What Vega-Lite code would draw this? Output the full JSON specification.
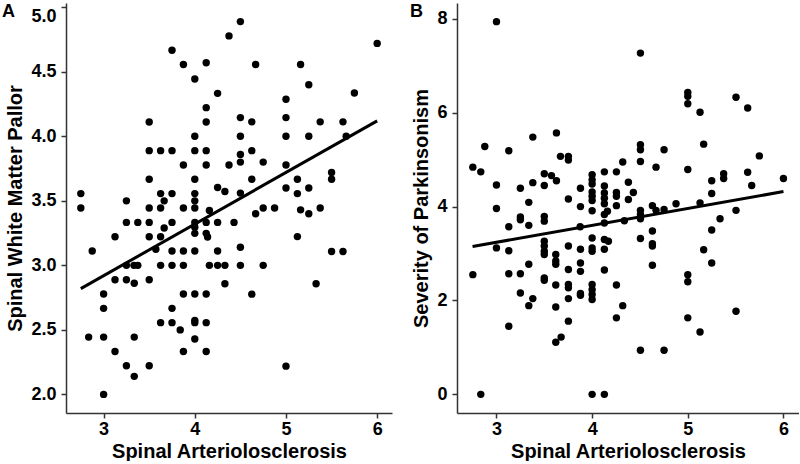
{
  "$schema": "https://vega.github.io/schema/vega-lite/v6.json",
  "padding": {"left": 2, "top": 3, "right": 0, "bottom": 0},
  "spacing": 18,
  "background": "white",
  "config": {
    "font": "Liberation Sans",
    "view": {"stroke": null},
    "axis": {
      "grid": false,
      "domainColor": "#333333",
      "domainWidth": 1.5,
      "tickColor": "#333333",
      "tickWidth": 1.5,
      "tickSize": 5,
      "labelColor": "#000000",
      "labelFont": "Liberation Sans",
      "labelFontSize": 18,
      "labelFontWeight": "bold",
      "titleColor": "#000000",
      "titleFont": "Liberation Sans",
      "titleFontSize": 20,
      "titleFontWeight": "bold"
    },
    "axisX": {"labelPadding": 2, "titlePadding": 3},
    "axisY": {"labelPadding": 5, "titlePadding": 5},
    "title": {"fontSize": 18, "fontWeight": "bold", "font": "Liberation Sans", "color": "#000000", "anchor": "start", "frame": "group", "offset": -18}
  },
  "datasets": {
    "ptsA": [
      {"x": 4.375, "y": 4.778}, {"x": 3.75, "y": 4.667}, {"x": 3.875, "y": 4.556}, {"x": 4.125, "y": 4.57},
      {"x": 4.0, "y": 4.444}, {"x": 4.25, "y": 4.333}, {"x": 4.125, "y": 4.222}, {"x": 3.5, "y": 4.111},
      {"x": 4.125, "y": 4.111}, {"x": 4.0, "y": 4.0}, {"x": 3.5, "y": 3.889}, {"x": 3.625, "y": 3.889},
      {"x": 3.75, "y": 3.889}, {"x": 4.0, "y": 3.889}, {"x": 4.125, "y": 3.889}, {"x": 3.875, "y": 3.778},
      {"x": 4.125, "y": 3.778}, {"x": 4.375, "y": 3.778}, {"x": 3.5, "y": 3.667}, {"x": 4.0, "y": 3.667},
      {"x": 4.25, "y": 3.603}, {"x": 4.33, "y": 3.572}, {"x": 2.75, "y": 3.556}, {"x": 3.625, "y": 3.556},
      {"x": 3.75, "y": 3.556}, {"x": 4.0, "y": 3.556}, {"x": 3.25, "y": 3.5}, {"x": 3.664, "y": 3.5},
      {"x": 4.0, "y": 3.5}, {"x": 2.75, "y": 3.444}, {"x": 3.5, "y": 3.444}, {"x": 3.625, "y": 3.444},
      {"x": 3.875, "y": 3.444}, {"x": 4.0, "y": 3.444}, {"x": 4.16, "y": 3.425}, {"x": 3.25, "y": 3.333},
      {"x": 3.375, "y": 3.333}, {"x": 3.5, "y": 3.333}, {"x": 3.75, "y": 3.333}, {"x": 4.0, "y": 3.333},
      {"x": 4.125, "y": 3.333}, {"x": 4.25, "y": 3.333}, {"x": 3.664, "y": 3.29},
      {"x": 4.5, "y": 4.889}, {"x": 4.667, "y": 4.556}, {"x": 5.16, "y": 4.556}, {"x": 5.25, "y": 4.4},
      {"x": 6.0, "y": 4.72}, {"x": 5.75, "y": 4.336}, {"x": 5.0, "y": 4.287}, {"x": 4.5, "y": 4.145},
      {"x": 4.625, "y": 4.112}, {"x": 5.0, "y": 4.145}, {"x": 5.375, "y": 4.112}, {"x": 5.625, "y": 4.112},
      {"x": 4.5, "y": 4.0}, {"x": 5.0, "y": 4.0}, {"x": 5.25, "y": 4.0}, {"x": 5.66, "y": 4.0},
      {"x": 4.5, "y": 3.86}, {"x": 4.5, "y": 3.8}, {"x": 4.625, "y": 3.889}, {"x": 4.75, "y": 3.8},
      {"x": 5.0, "y": 3.778}, {"x": 4.625, "y": 3.667}, {"x": 5.125, "y": 3.667}, {"x": 5.5, "y": 3.72},
      {"x": 5.5, "y": 3.667}, {"x": 4.5, "y": 3.56}, {"x": 5.0, "y": 3.6}, {"x": 5.125, "y": 3.556},
      {"x": 5.25, "y": 3.6}, {"x": 4.667, "y": 3.4}, {"x": 4.75, "y": 3.444}, {"x": 4.875, "y": 3.444},
      {"x": 5.16, "y": 3.43}, {"x": 5.25, "y": 3.4}, {"x": 5.375, "y": 3.444}, {"x": 4.43, "y": 3.333},
      {"x": 3.125, "y": 3.222}, {"x": 3.5, "y": 3.222}, {"x": 3.625, "y": 3.222}, {"x": 4.0, "y": 3.295},
      {"x": 4.0, "y": 3.248}, {"x": 4.125, "y": 3.248}, {"x": 4.14, "y": 3.22}, {"x": 2.875, "y": 3.111},
      {"x": 3.573, "y": 3.125}, {"x": 3.75, "y": 3.111}, {"x": 3.875, "y": 3.111}, {"x": 4.0, "y": 3.111},
      {"x": 4.25, "y": 3.111}, {"x": 3.25, "y": 3.0}, {"x": 3.333, "y": 3.0}, {"x": 3.375, "y": 3.0},
      {"x": 3.625, "y": 3.0}, {"x": 3.75, "y": 3.0}, {"x": 3.875, "y": 3.0}, {"x": 4.16, "y": 3.0},
      {"x": 4.25, "y": 3.0}, {"x": 4.33, "y": 3.0}, {"x": 3.125, "y": 2.889}, {"x": 3.25, "y": 2.889},
      {"x": 3.5, "y": 2.889}, {"x": 3.336, "y": 2.862}, {"x": 4.33, "y": 2.857}, {"x": 3.0, "y": 2.778},
      {"x": 3.875, "y": 2.778}, {"x": 4.0, "y": 2.778}, {"x": 4.125, "y": 2.778}, {"x": 3.0, "y": 2.667},
      {"x": 3.75, "y": 2.667}, {"x": 3.625, "y": 2.556}, {"x": 3.75, "y": 2.556}, {"x": 4.0, "y": 2.556},
      {"x": 4.125, "y": 2.556}, {"x": 4.0, "y": 2.574}, {"x": 3.84, "y": 2.5}, {"x": 2.836, "y": 2.444},
      {"x": 3.0, "y": 2.444}, {"x": 3.336, "y": 2.444}, {"x": 4.0, "y": 2.43}, {"x": 3.125, "y": 2.333},
      {"x": 3.875, "y": 2.333}, {"x": 4.125, "y": 2.333}, {"x": 3.25, "y": 2.222}, {"x": 3.5, "y": 2.222},
      {"x": 3.336, "y": 2.14}, {"x": 3.0, "y": 2.0},
      {"x": 5.125, "y": 3.223}, {"x": 4.5, "y": 3.14}, {"x": 5.5, "y": 3.107}, {"x": 5.625, "y": 3.107},
      {"x": 4.5, "y": 3.0}, {"x": 4.75, "y": 3.0}, {"x": 5.33, "y": 2.857}, {"x": 4.625, "y": 2.777},
      {"x": 5.0, "y": 2.219}
    ],
    "fitA": [{"x": 2.75, "y": 2.82}, {"x": 6.0, "y": 4.12}],
    "ptsB": [
      {"x": 3.0, "y": 7.94}, {"x": 2.878, "y": 5.28}, {"x": 3.129, "y": 5.19}, {"x": 3.38, "y": 5.48},
      {"x": 3.627, "y": 5.57}, {"x": 2.753, "y": 4.84}, {"x": 2.836, "y": 4.74}, {"x": 3.669, "y": 5.07},
      {"x": 3.752, "y": 5.07}, {"x": 3.752, "y": 4.99}, {"x": 3.0, "y": 4.46}, {"x": 3.25, "y": 4.39},
      {"x": 3.38, "y": 4.51}, {"x": 3.5, "y": 4.7}, {"x": 3.575, "y": 4.66}, {"x": 3.627, "y": 4.55},
      {"x": 3.5, "y": 4.45}, {"x": 4.0, "y": 4.68}, {"x": 4.0, "y": 4.57}, {"x": 4.0, "y": 4.48},
      {"x": 4.0, "y": 4.31}, {"x": 4.0, "y": 4.22}, {"x": 4.0, "y": 4.13}, {"x": 4.0, "y": 3.91},
      {"x": 4.128, "y": 4.74}, {"x": 4.128, "y": 4.44}, {"x": 4.128, "y": 4.29}, {"x": 4.128, "y": 4.18},
      {"x": 4.128, "y": 4.06}, {"x": 4.16, "y": 3.9}, {"x": 4.128, "y": 3.83}, {"x": 4.254, "y": 4.74},
      {"x": 4.254, "y": 4.3}, {"x": 4.254, "y": 4.22}, {"x": 4.254, "y": 4.02}, {"x": 4.32, "y": 4.95},
      {"x": 3.878, "y": 4.39}, {"x": 3.752, "y": 4.16}, {"x": 3.878, "y": 4.0}, {"x": 3.338, "y": 4.09},
      {"x": 3.0, "y": 3.96}, {"x": 3.25, "y": 3.78}, {"x": 3.25, "y": 3.72}, {"x": 3.5, "y": 3.79},
      {"x": 3.5, "y": 3.69}, {"x": 3.338, "y": 3.6}, {"x": 3.129, "y": 3.57}, {"x": 3.875, "y": 3.57},
      {"x": 4.128, "y": 3.65}, {"x": 3.0, "y": 3.12}, {"x": 3.129, "y": 3.06}, {"x": 3.5, "y": 3.26},
      {"x": 3.5, "y": 3.16}, {"x": 3.5, "y": 3.05}, {"x": 3.5, "y": 2.98}, {"x": 3.62, "y": 2.98},
      {"x": 3.62, "y": 2.84}, {"x": 3.62, "y": 2.77}, {"x": 3.752, "y": 3.16}, {"x": 3.878, "y": 3.09},
      {"x": 4.0, "y": 3.33}, {"x": 4.0, "y": 3.12}, {"x": 4.0, "y": 3.05}, {"x": 4.128, "y": 3.3},
      {"x": 4.17, "y": 3.26}, {"x": 4.128, "y": 3.09}, {"x": 2.753, "y": 2.55}, {"x": 3.129, "y": 2.57},
      {"x": 3.25, "y": 2.57}, {"x": 3.338, "y": 2.77}, {"x": 3.878, "y": 2.8}, {"x": 3.878, "y": 2.62},
      {"x": 3.752, "y": 2.66}, {"x": 4.128, "y": 2.65}, {"x": 3.5, "y": 2.48}, {"x": 3.5, "y": 2.43},
      {"x": 3.25, "y": 2.16}, {"x": 3.38, "y": 2.04}, {"x": 3.338, "y": 1.89}, {"x": 3.62, "y": 2.33},
      {"x": 3.752, "y": 2.34}, {"x": 3.752, "y": 2.27}, {"x": 3.752, "y": 2.04}, {"x": 3.878, "y": 2.15},
      {"x": 3.878, "y": 2.11}, {"x": 4.0, "y": 2.34}, {"x": 4.0, "y": 2.23}, {"x": 4.0, "y": 2.13},
      {"x": 4.0, "y": 2.02}, {"x": 4.254, "y": 2.33}, {"x": 4.32, "y": 1.89}, {"x": 4.254, "y": 1.63},
      {"x": 3.62, "y": 1.86}, {"x": 3.129, "y": 1.45}, {"x": 3.62, "y": 1.11}, {"x": 3.676, "y": 1.22},
      {"x": 3.752, "y": 1.56}, {"x": 2.836, "y": 0}, {"x": 4.0, "y": 0}, {"x": 4.128, "y": 0},
      {"x": 4.505, "y": 7.27}, {"x": 5.0, "y": 6.43}, {"x": 5.0, "y": 6.35}, {"x": 5.0, "y": 6.19},
      {"x": 5.128, "y": 6.01}, {"x": 5.504, "y": 6.33}, {"x": 5.626, "y": 6.1}, {"x": 4.505, "y": 5.32},
      {"x": 4.505, "y": 5.21}, {"x": 4.752, "y": 5.21}, {"x": 5.166, "y": 5.33}, {"x": 5.748, "y": 5.08},
      {"x": 4.505, "y": 4.96}, {"x": 4.668, "y": 4.84}, {"x": 5.0, "y": 4.79}, {"x": 4.379, "y": 4.52},
      {"x": 4.431, "y": 4.3}, {"x": 4.379, "y": 4.15}, {"x": 5.25, "y": 4.55}, {"x": 5.375, "y": 4.7},
      {"x": 5.375, "y": 4.6}, {"x": 5.626, "y": 4.73}, {"x": 6.0, "y": 4.6}, {"x": 5.668, "y": 4.45},
      {"x": 5.25, "y": 4.28}, {"x": 4.505, "y": 3.92}, {"x": 4.505, "y": 3.83}, {"x": 4.505, "y": 3.74},
      {"x": 4.63, "y": 4.02}, {"x": 4.668, "y": 3.92}, {"x": 4.752, "y": 3.94}, {"x": 4.877, "y": 4.06},
      {"x": 5.128, "y": 4.08}, {"x": 5.504, "y": 3.92}, {"x": 5.337, "y": 3.74}, {"x": 4.337, "y": 3.7},
      {"x": 5.25, "y": 3.5}, {"x": 4.505, "y": 3.32}, {"x": 4.63, "y": 3.48}, {"x": 4.63, "y": 3.21},
      {"x": 4.63, "y": 3.16}, {"x": 4.63, "y": 2.75}, {"x": 5.166, "y": 3.08}, {"x": 5.25, "y": 2.8},
      {"x": 5.0, "y": 2.55}, {"x": 5.0, "y": 2.4}, {"x": 5.0, "y": 1.63}, {"x": 5.128, "y": 1.33},
      {"x": 5.504, "y": 1.77}, {"x": 4.505, "y": 0.94}, {"x": 4.752, "y": 0.94}
    ],
    "fitB": [{"x": 2.75, "y": 3.15}, {"x": 6.0, "y": 4.32}]
  },
  "hconcat": [
    {
      "width": 326,
      "height": 410,
      "title": {"text": "A", "dx": -64},
      "layer": [
        {
          "data": {"name": "ptsA"},
          "mark": {"type": "circle", "size": 55, "color": "#000000", "opacity": 1},
          "encoding": {
            "x": {"field": "x", "type": "quantitative", "scale": {"domain": [2.5875, 6.1625], "nice": false, "zero": false},
                  "axis": {"values": [3, 4, 5, 6], "format": "d", "title": "Spinal Arteriolosclerosis"}},
            "y": {"field": "y", "type": "quantitative", "scale": {"domain": [1.856, 5.033], "nice": false, "zero": false},
                  "axis": {"values": [2, 2.5, 3, 3.5, 4, 4.5, 5], "format": ".1f", "title": "Spinal White Matter Pallor", "labelFlush": 5}}
          }
        },
        {
          "data": {"name": "fitA"},
          "mark": {"type": "line", "color": "#000000", "strokeWidth": 3},
          "encoding": {
            "x": {"field": "x", "type": "quantitative"},
            "y": {"field": "y", "type": "quantitative"}
          }
        }
      ]
    },
    {
      "width": 342,
      "height": 410,
      "title": {"text": "B", "dx": -47},
      "layer": [
        {
          "data": {"name": "ptsB"},
          "mark": {"type": "circle", "size": 55, "color": "#000000", "opacity": 1},
          "encoding": {
            "x": {"field": "x", "type": "quantitative", "scale": {"domain": [2.5875, 6.1625], "nice": false, "zero": false},
                  "axis": {"values": [3, 4, 5, 6], "format": "d", "title": "Spinal Arteriolosclerosis"}},
            "y": {"field": "y", "type": "quantitative", "scale": {"domain": [-0.397, 8.337], "nice": false, "zero": false},
                  "axis": {"values": [0, 2, 4, 6, 8], "format": "d", "title": "Severity of Parkinsonism"}}
          }
        },
        {
          "data": {"name": "fitB"},
          "mark": {"type": "line", "color": "#000000", "strokeWidth": 3},
          "encoding": {
            "x": {"field": "x", "type": "quantitative"},
            "y": {"field": "y", "type": "quantitative"}
          }
        }
      ]
    }
  ]
}
